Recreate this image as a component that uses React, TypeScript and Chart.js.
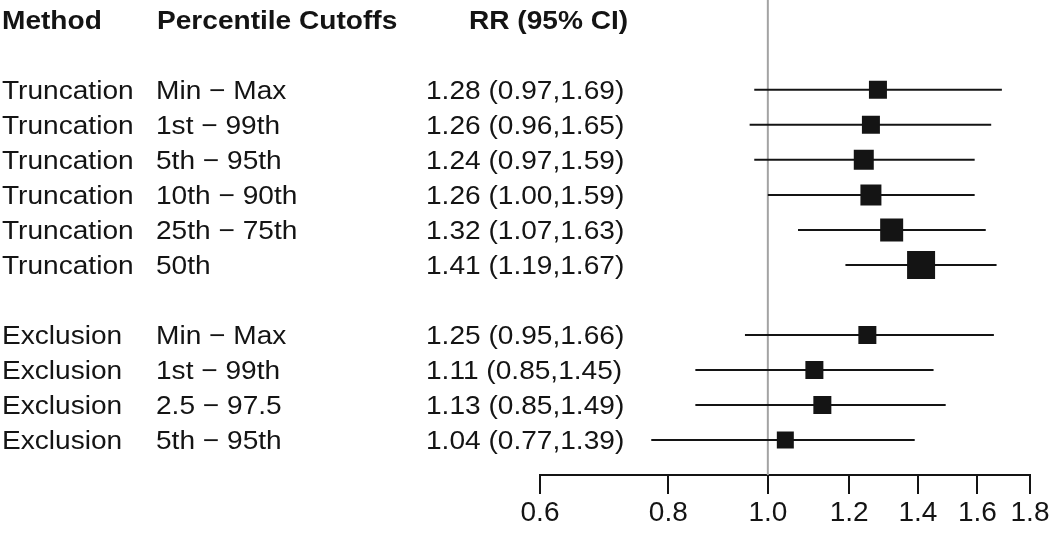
import React, { useEffect, useRef } from "react";
import { Chart, registerables } from "chart.js";

Chart.register(...registerables);

const methods = [
  "Truncation", "Truncation", "Truncation", "Truncation", "Truncation", "Truncation",
  "Exclusion", "Exclusion", "Exclusion", "Exclusion",
];
const cutoffs = [
  "Min \u2212 Max", "1st \u2212 99th", "5th \u2212 95th", "10th \u2212 90th", "25th \u2212 75th", "50th",
  "Min \u2212 Max", "1st \u2212 99th", "2.5 \u2212 97.5", "5th \u2212 95th",
];
const rr = [1.28, 1.26, 1.24, 1.26, 1.32, 1.41, 1.25, 1.11, 1.13, 1.04];
const lower = [0.97, 0.96, 0.97, 1.0, 1.07, 1.19, 0.95, 0.85, 0.85, 0.77];
const upper = [1.69, 1.65, 1.59, 1.59, 1.63, 1.67, 1.66, 1.45, 1.49, 1.39];
const weights = [18, 18, 20, 21, 23, 28, 18, 18, 18, 17];
const rowIndex = [2, 3, 4, 5, 6, 7, 9, 10, 11, 12];
const headers = ["Method", "Percentile Cutoffs", "RR (95% CI)"];
const xTicks = [0.6, 0.8, 1.0, 1.2, 1.4, 1.6, 1.8];

const FONT = "'Liberation Sans', Arial, Helvetica, sans-serif";
const INK = "#141414";

const textPlugin = {
  id: "forestText",
  afterDraw(chart: any) {
    const ctx = chart.ctx;
    const y = chart.scales.y;
    const stretch = 1.08;
    const put = (t: string, px: number, rowY: number, bold: boolean) => {
      ctx.save();
      ctx.font = (bold ? "bold " : "") + "26px " + FONT;
      ctx.fillStyle = INK;
      ctx.textBaseline = "alphabetic";
      ctx.textAlign = "left";
      ctx.translate(px, rowY + 9.3);
      ctx.scale(stretch, 1);
      ctx.fillText(t, 0, 0);
      ctx.restore();
    };
    const hy = y.getPixelForValue(0);
    put(headers[0], 2, hy, true);
    put(headers[1], 157, hy, true);
    put(headers[2], 469, hy, true);
    for (let i = 0; i < rr.length; i++) {
      const py = y.getPixelForValue(rowIndex[i]);
      put(methods[i], 2, py, false);
      put(cutoffs[i], 156, py, false);
      put(
        rr[i].toFixed(2) + " (" + lower[i].toFixed(2) + "," + upper[i].toFixed(2) + ")",
        426,
        py,
        false
      );
    }
  },
  beforeDatasetsDraw(chart: any) {
    const ctx = chart.ctx;
    const x = chart.scales.x;
    const px = x.getPixelForValue(1.0);
    ctx.save();
    ctx.strokeStyle = "#a3a3a3";
    ctx.lineWidth = 2;
    ctx.beginPath();
    ctx.moveTo(px, 0);
    ctx.lineTo(px, chart.chartArea.bottom);
    ctx.stroke();
    ctx.restore();
  },
};

export default function App() {
  const ref = useRef<HTMLCanvasElement | null>(null);
  useEffect(() => {
    if (!ref.current) return;
    const ciSets = rr.map((_, i) => ({
      type: "line" as const,
      data: [
        { x: lower[i], y: rowIndex[i] },
        { x: upper[i], y: rowIndex[i] },
      ],
      borderColor: INK,
      borderWidth: 2,
      pointRadius: 0,
      fill: false,
      order: 2,
    }));
    const chart = new Chart(ref.current, {
      type: "scatter",
      data: {
        datasets: [
          ...ciSets,
          {
            type: "scatter" as const,
            data: rr.map((v, i) => ({ x: v, y: rowIndex[i] })),
            pointStyle: "rect",
            pointRadius: weights.map((w) => w / (2 * Math.SQRT1_2)),
            pointBackgroundColor: INK,
            pointBorderWidth: 0,
            borderWidth: 0,
            order: 1,
          } as any,
        ],
      },
      options: {
        animation: false,
        responsive: true,
        maintainAspectRatio: false,
        layout: { padding: { left: 540, right: 20, top: 18, bottom: 0 } },
        plugins: { legend: { display: false }, tooltip: { enabled: false } },
        scales: {
          x: {
            type: "logarithmic",
            min: 0.6,
            max: 1.8,
            afterBuildTicks: (scale: any) => {
              scale.ticks = xTicks.map((v) => ({ value: v }));
            },
            afterFit: (scale: any) => {
              scale.height = 64;
              scale.paddingLeft = 0;
              scale.paddingRight = 0;
            },
            border: { display: true, color: INK, width: 2 },
            grid: {
              display: true,
              drawOnChartArea: false,
              drawTicks: true,
              tickLength: 19,
              color: INK,
              lineWidth: 2,
            },
            ticks: {
              autoSkip: false,
              maxRotation: 0,
              padding: 2,
              color: INK,
              font: { family: FONT, size: 28 },
              callback: (v: any) => Number(v).toFixed(1),
            },
          },
          y: {
            type: "linear",
            display: false,
            reverse: true,
            min: 0,
            max: 13,
          },
        },
      },
      plugins: [textPlugin],
    });
    return () => chart.destroy();
  }, []);
  return (
    <div style={{ position: "absolute", left: 0, top: 0, width: 1050, height: 539, background: "#fff" }}>
      <canvas ref={ref} />
    </div>
  );
}
